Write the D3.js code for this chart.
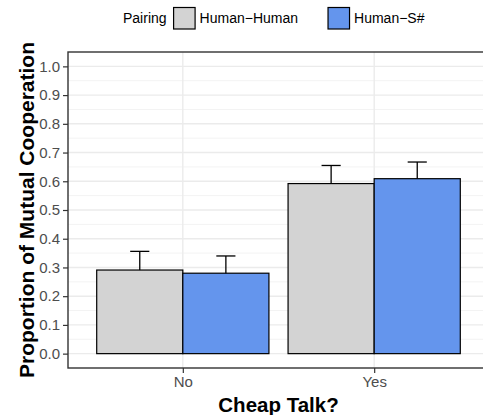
<!DOCTYPE html>
<html>
<head>
<meta charset="utf-8">
<script src="https://cdn.jsdelivr.net/npm/d3@7"></script>
<style>
  body { margin: 0; background: #fff; }
  svg { display: block; font-family: "Liberation Sans", Arial, sans-serif; }
</style>
</head>
<body>
<div id="chart"></div>
<script>
// Data
const talk = ['No', 'Yes']
const pairings = ['Human\u2212Human', 'Human\u2212S#']
const meanHH = [0.291, 0.592]
const meanHS = [0.280, 0.609]
const upperHH = [0.356, 0.655]
const upperHS = [0.340, 0.667]
const lowerHH = [0.226, 0.529]
const lowerHS = [0.220, 0.551]
const yTicks = [0, 0.1, 0.2, 0.3, 0.4, 0.5, 0.6, 0.7, 0.8, 0.9, 1.0]

const colors = ['#d3d3d3', '#6495ed']

// Dimensions
let dimensions = {
  width: 483,
  height: 415,
  margin: { top: 52, bottom: 47, left: 68, right: -6 }
}
dimensions.ctrWidth = dimensions.width - dimensions.margin.left - dimensions.margin.right
dimensions.ctrHeight = dimensions.height - dimensions.margin.top - dimensions.margin.bottom

const rows = []
talk.forEach((t, i) => {
  rows.push({ talk: t, pos: i + 1, group: 0, mean: meanHH[i], lo: lowerHH[i], hi: upperHH[i] })
  rows.push({ talk: t, pos: i + 1, group: 1, mean: meanHS[i], lo: lowerHS[i], hi: upperHS[i] })
})

const svg = d3.select('#chart')
  .append('svg')
  .attr('width', dimensions.width)
  .attr('height', dimensions.height)

const ctr = svg.append('g')
  .attr('transform', `translate(${dimensions.margin.left}, ${dimensions.margin.top})`)

// Scales (discrete positions 1,2 expanded by 0.6 like ggplot)
const xScale = d3.scaleLinear()
  .domain([0.4, talk.length + 0.6])
  .range([0, dimensions.ctrWidth])

const yScale = d3.scaleLinear()
  .domain([-0.05, 1.05])
  .range([dimensions.ctrHeight, 0])

const barW = 0.45
const barX = d => d.group === 0 ? d.pos - barW : d.pos
const barC = d => barX(d) + barW / 2

// Grid
const minor = d3.range(0.05, 1.0, 0.1)
ctr.selectAll('.minor')
  .data(minor)
  .join('line')
  .attr('x1', 0).attr('x2', dimensions.ctrWidth)
  .attr('y1', d => yScale(d)).attr('y2', d => yScale(d))
  .attr('stroke', '#f3f3f3').attr('stroke-width', 1)

ctr.selectAll('.major')
  .data(yTicks)
  .join('line')
  .attr('x1', 0).attr('x2', dimensions.ctrWidth)
  .attr('y1', d => yScale(d)).attr('y2', d => yScale(d))
  .attr('stroke', '#ebebeb').attr('stroke-width', 1.4)

ctr.selectAll('.vmajor')
  .data(talk)
  .join('line')
  .attr('x1', (d, i) => xScale(i + 1)).attr('x2', (d, i) => xScale(i + 1))
  .attr('y1', 0).attr('y2', dimensions.ctrHeight)
  .attr('stroke', '#ebebeb').attr('stroke-width', 1.4)

// Error bars (drawn under bars)
const ew = 0.05
const eb = ctr.append('g').attr('stroke', '#000').attr('stroke-width', 1.3)
eb.selectAll('.stem')
  .data(rows)
  .join('line')
  .attr('x1', d => xScale(barC(d))).attr('x2', d => xScale(barC(d)))
  .attr('y1', d => yScale(d.lo)).attr('y2', d => yScale(d.hi))
eb.selectAll('.cap')
  .data(rows)
  .join('line')
  .attr('x1', d => xScale(barC(d) - ew)).attr('x2', d => xScale(barC(d) + ew))
  .attr('y1', d => yScale(d.hi)).attr('y2', d => yScale(d.hi))

// Bars
ctr.selectAll('.bar')
  .data(rows)
  .join('rect')
  .attr('x', d => xScale(barX(d)))
  .attr('width', d => xScale(barW) - xScale(0))
  .attr('y', d => yScale(d.mean))
  .attr('height', d => yScale(0) - yScale(d.mean))
  .attr('fill', d => colors[d.group])
  .attr('stroke', '#000')
  .attr('stroke-width', 1.2)

// Panel border
ctr.append('rect')
  .attr('width', dimensions.ctrWidth)
  .attr('height', dimensions.ctrHeight)
  .attr('fill', 'none')
  .attr('stroke', '#333333')
  .attr('stroke-width', 1.4)

// Axes
const yAxis = d3.axisLeft(yScale).tickValues(yTicks).tickFormat(d3.format('.1f')).tickSize(5).tickPadding(3)
const yG = ctr.append('g').call(yAxis)
yG.select('.domain').remove()
yG.selectAll('line').attr('stroke', '#333333').attr('stroke-width', 1.2)
yG.selectAll('text').attr('fill', '#4d4d4d').style('font-size', '15px')

const xAxis = d3.axisBottom(xScale).tickValues([1, 2]).tickFormat((d, i) => talk[i]).tickSize(5).tickPadding(3)
const xG = ctr.append('g').attr('transform', `translate(0, ${dimensions.ctrHeight})`).call(xAxis)
xG.select('.domain').remove()
xG.selectAll('line').attr('stroke', '#333333').attr('stroke-width', 1.2)
xG.selectAll('text').attr('fill', '#4d4d4d').style('font-size', '15px')

// Axis titles
svg.append('text')
  .attr('x', dimensions.margin.left + (xScale(1.5)))
  .attr('y', 412)
  .attr('text-anchor', 'middle')
  .style('font-size', '20.5px')
  .style('font-weight', 'bold')
  .text('Cheap Talk?')

svg.append('text')
  .attr('transform', `translate(34, ${dimensions.margin.top + dimensions.ctrHeight / 2}) rotate(-90)`)
  .attr('text-anchor', 'middle')
  .style('font-size', '21px')
  .style('font-weight', 'bold')
  .text('Proportion of Mutual Cooperation')

// Legend
const legend = svg.append('g').attr('transform', 'translate(123, 0)')
const title = legend.append('text')
  .attr('x', 0).attr('y', 23.3)
  .style('font-size', '14px')
  .attr('fill', '#000')
  .text('Pairing')
let lx = title.node().getComputedTextLength() + 7
pairings.forEach((p, i) => {
  legend.append('rect')
    .attr('x', lx).attr('y', 7.5)
    .attr('width', 21.5).attr('height', 21.5)
    .attr('fill', colors[i])
    .attr('stroke', '#000')
    .attr('stroke-width', 1.2)
  const t = legend.append('text')
    .attr('x', lx + 26).attr('y', 23.3)
    .style('font-size', '14px')
    .text(p)
  lx += 26 + t.node().getComputedTextLength() + 30
})
</script>
</body>
</html>
